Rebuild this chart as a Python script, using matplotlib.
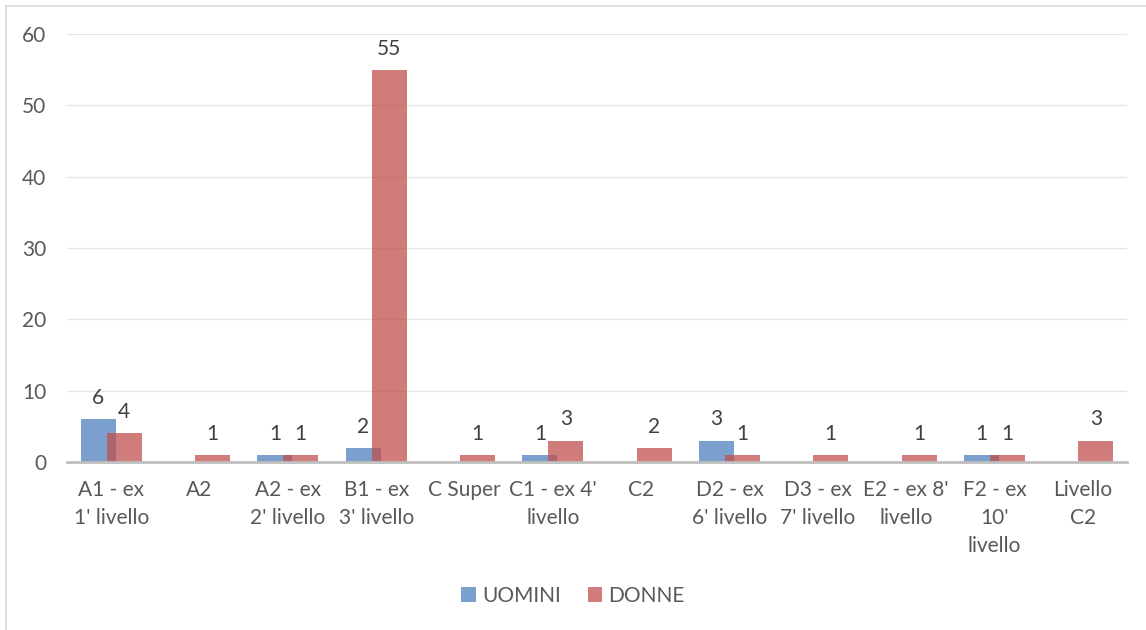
import matplotlib
matplotlib.use("Agg")
import matplotlib.pyplot as plt
import numpy as np
from matplotlib.patches import Rectangle

categories = ["A1 - ex\n1' livello", "A2", "A2 - ex\n2' livello", "B1 - ex\n3' livello",
              "C Super", "C1 - ex 4'\nlivello", "C2", "D2 - ex\n6' livello",
              "D3 - ex\n7' livello", "E2 - ex 8'\nlivello", "F2 - ex\n10'\nlivello",
              "Livello\nC2"]
uomini = [6, 0, 1, 2, 0, 1, 0, 3, 0, 0, 1, 0]
donne = [4, 1, 1, 55, 1, 3, 2, 1, 1, 1, 1, 3]
series_names = ["UOMINI", "DONNE"]
yticks = [0, 10, 20, 30, 40, 50, 60]

plt.rcParams['font.family'] = ['Lato', 'DejaVu Sans']
FS = 15

fig = plt.figure(figsize=(11.46, 6.3), dpi=100)
fig.patches.append(Rectangle((6/1146, -0.1), 1.2, 1 - 6/630 + 0.1, transform=fig.transFigure,
                             fill=False, edgecolor='#D9D9D9', linewidth=1.2, zorder=0))
ax = fig.add_axes([67/1146, 1 - 462/630, (1127 - 67)/1146, (462 - 34)/630])

x = np.arange(len(categories))
w = 0.395
off = 0.147
b1 = ax.bar(x - off, uomini, w, color='#4F81BD', alpha=0.75, label=series_names[0], zorder=2)
b2 = ax.bar(x + off, donne, w, color='#C0504D', alpha=0.75, label=series_names[1], zorder=3)

for bars, vals in ((b1, uomini), (b2, donne)):
    for r, v in zip(bars, vals):
        if v != 0:
            ax.annotate(str(v), (r.get_x() + r.get_width()/2, v), xytext=(0, 8),
                        textcoords='offset points', ha='center', va='bottom',
                        fontsize=FS, color='#404040')

ax.set_xlim(-0.5, len(categories) - 0.5)
ax.set_ylim(0, 60)
ax.set_yticks(yticks)
ax.set_xticks(x)
ax.set_xticklabels(categories, fontsize=FS, color='#595959', linespacing=1.5, va='top')
ax.tick_params(axis='y', labelsize=FS, labelcolor='#595959', length=0, pad=15)
ax.tick_params(axis='x', length=0, pad=13)
ax.grid(axis='y', color='#E6E6E6', linewidth=1, zorder=0)
ax.set_axisbelow(True)
for s in ['top', 'right', 'left']:
    ax.spines[s].set_visible(False)
ax.spines['bottom'].set_color('#BFBFBF')
ax.spines['bottom'].set_linewidth(2)
ax.spines['bottom'].set_zorder(4)

leg = fig.legend(handles=[b1, b2], labels=series_names, loc='center',
                 bbox_to_anchor=(0.5, 1 - 596/630), ncol=2, frameon=False,
                 fontsize=FS, handlelength=0.7, handleheight=0.7, handletextpad=0.3,
                 columnspacing=1.3, labelcolor='#595959')

fig.savefig('out.png', dpi=100)
